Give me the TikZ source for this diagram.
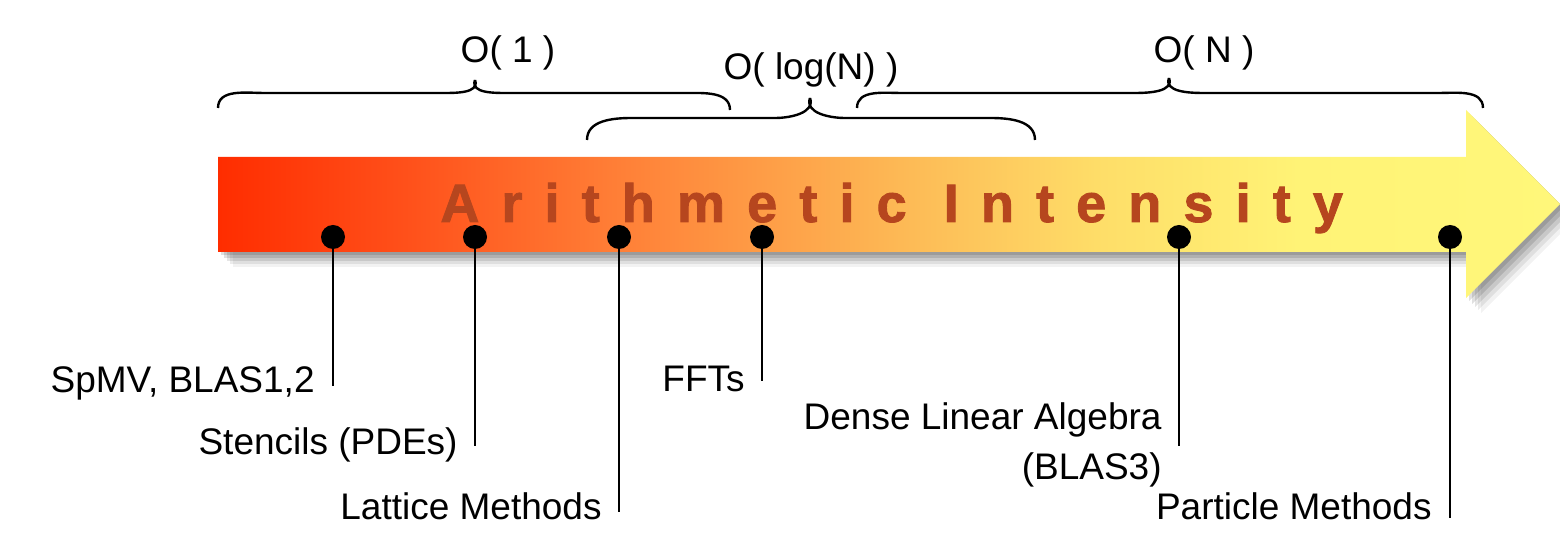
\documentclass[tikz,border=0pt]{standalone}
\usepackage{fontspec}
\setmainfont{Liberation Sans}
\newfontfamily\titlefont[LetterSpace=41,FakeBold=1.6]{Liberation Sans}
\definecolor{titlecol}{RGB}{182,70,30}
\pgfdeclarehorizontalshading{aishade}{100bp}{rgb(0bp)=(1,0.176,0); rgb(25bp)=(1,0.176,0); rgb(31.8bp)=(1,0.31,0.1); rgb(40bp)=(1,0.5,0.216); rgb(50.4bp)=(0.992,0.725,0.333); rgb(57.9bp)=(0.996,0.87,0.41); rgb(65.3bp)=(1,0.953,0.463); rgb(75bp)=(1,0.969,0.478); rgb(100bp)=(1,0.969,0.478)}
\tikzset{
  lab/.style={inner sep=0pt, font=\fontsize{18.5pt}{22pt}\selectfont},
  dot/.style={circle, fill=black, inner sep=0pt, minimum size=12pt},
  stem/.style={line width=1.25pt},
  bracepath/.style={line width=1.2pt},
}
\def\arrowpath{(218,157) -- (1466,157) -- (1466,110) -- (1560,204) -- (1466,298) -- (1466,252) -- (218,252) -- cycle}
\begin{document}
\begin{tikzpicture}[x=0.5pt,y=-0.5pt]
\useasboundingbox (0,0) rectangle (1560,539);
% shadow of arrow
\foreach \d/\o in {3/0.12,6/0.12,9/0.10,12/0.08,15/0.05}{
  \fill[black, opacity=\o, xshift=\d*0.5pt, yshift=-\d*0.5pt] \arrowpath;
}
% arrow
\shade[shading=aishade] \arrowpath;
% title
\node[anchor=base west, inner sep=0pt, text=titlecol, font=\titlefont\bfseries\fontsize{27pt}{30pt}\selectfont] (title) at (440,222) {Arithmetic Intensity};
% braces
\draw[bracepath] (218,108) to[out=90,in=180] (265,93) -- (440,93) to[out=0,in=-70] (475,80);
\draw[bracepath] (475,80) to[out=-110,in=180] (510,93) -- (685,93) to[out=0,in=90] (730,110);
\node[lab, anchor=base] (o1) at (508,63) {O( 1 )};
\draw[bracepath] (587,140) to[out=90,in=180] (632,118) -- (775,118) to[out=0,in=-70] (810,98);
\draw[bracepath] (810,98) to[out=-110,in=180] (845,118) -- (990,118) to[out=0,in=90] (1035,140);
\node[lab, anchor=base] (o2) at (811,80) {O( log(N) )};
\draw[bracepath] (857,108) to[out=90,in=180] (902,93) -- (1134,93) to[out=0,in=-70] (1169,78);
\draw[bracepath] (1169,78) to[out=-110,in=180] (1204,93) -- (1438,93) to[out=0,in=90] (1483,108);
\node[lab, anchor=base] (o3) at (1204,63) {O( N )};
% dots
\node[dot] (d1) at (333,237) {};
\node[dot] (d2) at (475,237) {};
\node[dot] (d3) at (619,237) {};
\node[dot] (d4) at (762,237) {};
\node[dot] (d5) at (1179,237) {};
\node[dot] (d6) at (1450,237) {};
\coordinate (e1) at (333,386);
\coordinate (e2) at (475,446);
\coordinate (e3) at (619,512);
\coordinate (e4) at (762,381);
\coordinate (e5) at (1179,446);
\coordinate (e6) at (1450,518);
\draw[stem] (d1.center) -- (e1);
\draw[stem] (d2.center) -- (e2);
\draw[stem] (d3.center) -- (e3);
\draw[stem] (d4.center) -- (e4);
\draw[stem] (d5.center) -- (e5);
\draw[stem] (d6.center) -- (e6);
% labels
\node[lab, anchor=base east] (l1) at (315,393) {SpMV, BLAS1,2};
\node[lab, anchor=base east] (l2) at (458,455) {Stencils (PDEs)};
\node[lab, anchor=base east] (l3) at (602,520) {Lattice Methods};
\node[lab, anchor=base east] (l4) at (745,392) {FFTs};
\node[lab, anchor=base east] (l5) at (1162,430) {Dense Linear Algebra};
\node[lab, anchor=base east] (l6) at (1162,480) {(BLAS3)};
\node[lab, anchor=base east] (l7) at (1432,520) {Particle Methods};
\end{tikzpicture}
\end{document}
